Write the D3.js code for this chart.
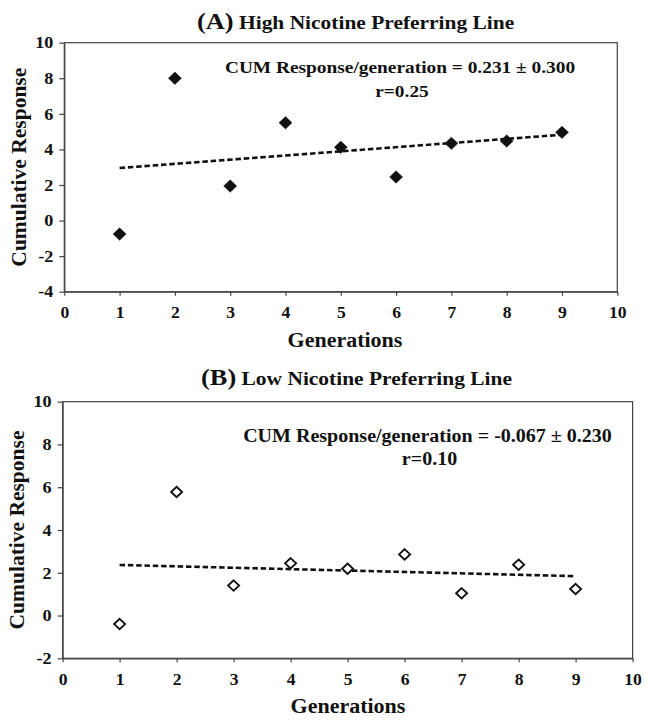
<!DOCTYPE html>
<html>
<head>
<meta charset="utf-8">
<script src="https://cdn.jsdelivr.net/npm/d3@7/dist/d3.min.js"></script>
<style>
  html, body { margin: 0; padding: 0; background: #fff; }
  svg { display: block; }
  text { font-family: "Liberation Serif", "Times New Roman", Times, serif; font-weight: bold; fill: #111; }
</style>
</head>
<body>
<svg id="chart" width="649" height="723"></svg>
<script>
// ---------------- data ----------------
const generations = [1, 2, 3, 4, 5, 6, 7, 8, 9];
const highLineValues = [-0.76, 8.0, 1.94, 5.5, 4.12, 2.45, 4.34, 4.47, 4.96];
const lowLineValues  = [-0.4, 5.78, 1.40, 2.44, 2.19, 2.86, 1.04, 2.38, 1.24];
const xTickValues = [0, 1, 2, 3, 4, 5, 6, 7, 8, 9, 10];
const yTickValuesA = [-4, -2, 0, 2, 4, 6, 8, 10];
const yTickValuesB = [-2, 0, 2, 4, 6, 8, 10];
const titleLetters = ["(A)", "(B)"];
const titleTexts = ["High Nicotine Preferring Line", "Low Nicotine Preferring Line"];
const equationTexts = ["CUM Response/generation = 0.231 \u00b1 0.300", "CUM Response/generation = -0.067 \u00b1 0.230"];
const rTexts = ["r=0.25", "r=0.10"];
const xAxisTitle = "Generations";
const yAxisTitle = "Cumulative Response";

// ---------------- layout ----------------
const svg = d3.select("#chart");
const SX = 1.1; // horizontal glyph stretch of the original figure
const axisColor = "#444";
const tickFont = '"Liberation Serif", "Times New Roman", serif';

const panels = [
  { values: highLineValues, yTicks: yTickValuesA, yDomain: [-4, 10], filled: true,
    left: 64.3, right: 617.3, top: 42.7, bottom: 291.7,
    titleX: 197, titleY: 29, eqX: 400, eqY: 73, rY: 96.5,
    xTitleX: 345, xTitleY: 347, yTitleX: 25.5, eqSize: 17.6 },
  { values: lowLineValues, yTicks: yTickValuesB, yDomain: [-2, 10], filled: false,
    left: 62.6, right: 632.6, top: 401.7, bottom: 658.3,
    titleX: 201, titleY: 385, eqX: 427.5, eqY: 441.5, rY: 465,
    xTitleX: 348, xTitleY: 713, yTitleX: 24, eqSize: 18.2 }
];

function stretchedText(g, x, y, str, size, anchor) {
  return g.append("text")
    .attr("transform", `translate(${x},${y}) scale(${SX},1)`)
    .attr("text-anchor", anchor || "middle")
    .style("font-size", size + "px")
    .text(str);
}

function linReg(xs, ys) {
  const mx = d3.mean(xs), my = d3.mean(ys);
  let sxy = 0, sxx = 0;
  xs.forEach((xv, i) => { sxy += (xv - mx) * (ys[i] - my); sxx += (xv - mx) ** 2; });
  const slope = sxy / sxx;
  return { slope, intercept: my - slope * mx };
}

const fmt = d => String(d);

panels.forEach((p, idx) => {
  const g = svg.append("g");
  const x = d3.scaleLinear().domain([0, 10]).range([p.left, p.right]);
  const y = d3.scaleLinear().domain(p.yDomain).range([p.bottom, p.top]);

  // frame
  g.append("rect")
    .attr("x", p.left).attr("y", p.top)
    .attr("width", p.right - p.left).attr("height", p.bottom - p.top)
    .attr("fill", "none").attr("stroke", axisColor).attr("stroke-width", 1.2);

  // x axis
  const xa = g.append("g").attr("transform", `translate(0,${p.bottom})`)
    .call(d3.axisBottom(x).tickValues(xTickValues).tickSizeInner(4).tickSizeOuter(0).tickFormat(fmt));
  xa.select(".domain").attr("stroke", axisColor).attr("stroke-width", 1.2);
  xa.selectAll(".tick line").attr("stroke", axisColor).attr("stroke-width", 1.2);
  xa.selectAll(".tick text")
    .attr("y", 15).attr("transform", `scale(${SX},1)`)
    .style("font-size", "16px").attr("fill", "#111")
    .style("font-family", tickFont).style("font-weight", "bold");

  // y axis
  const ya = g.append("g").attr("transform", `translate(${p.left},0)`)
    .call(d3.axisLeft(y).tickValues(p.yTicks).tickSizeInner(5).tickSizeOuter(0).tickFormat(fmt));
  ya.select(".domain").attr("stroke", axisColor).attr("stroke-width", 1.2);
  ya.selectAll(".tick line").attr("stroke", axisColor).attr("stroke-width", 1.2);
  ya.selectAll(".tick text")
    .attr("x", -11 / SX).attr("transform", `scale(${SX},1)`)
    .style("font-size", "16.5px").attr("fill", "#111")
    .style("font-family", tickFont).style("font-weight", "bold");

  // trend line (least squares through the data)
  const reg = linReg(generations, p.values);
  const x0 = d3.min(generations), x1 = d3.max(generations);
  g.append("line")
    .attr("x1", x(x0)).attr("y1", y(reg.intercept + reg.slope * x0))
    .attr("x2", x(x1)).attr("y2", y(reg.intercept + reg.slope * x1))
    .attr("stroke", "#111").attr("stroke-width", 2.6)
    .attr("stroke-dasharray", "5.5,2.8");

  // diamond markers
  const hw = 6.5, hh = 6.2;
  g.selectAll("path.pt").data(generations.map((gv, i) => [gv, p.values[i]]))
    .enter().append("path").attr("class", "pt")
    .attr("d", d => {
      const cx = x(d[0]), cy = y(d[1]);
      return p.filled
        ? `M${cx},${cy - hh}L${cx + hw},${cy}L${cx},${cy + hh}L${cx - hw},${cy}Z`
        : `M${cx},${cy - hh + 1}L${cx + hw - 1},${cy}L${cx},${cy + hh - 1}L${cx - hw + 1},${cy}Z`;
    })
    .attr("fill", p.filled ? "#111" : "#fff")
    .attr("stroke", "#111")
    .attr("stroke-width", p.filled ? 0.5 : 1.9);

  // panel title
  const t = g.append("text")
    .attr("transform", `translate(${p.titleX},${p.titleY}) scale(${SX},1)`)
    .attr("text-anchor", "start");
  t.append("tspan").style("font-size", "24px").text(titleLetters[idx]);
  t.append("tspan").style("font-size", "19.5px").text(" " + titleTexts[idx]);

  // annotation
  stretchedText(g, p.eqX, p.eqY, equationTexts[idx], p.eqSize, "middle");
  stretchedText(g, p.eqX + 2, p.rY, rTexts[idx], p.eqSize, "middle");

  // axis titles
  stretchedText(g, p.xTitleX, p.xTitleY, xAxisTitle, 20, "middle");
  g.append("text")
    .attr("transform", `translate(${p.yTitleX},${(p.top + p.bottom) / 2}) rotate(-90)`)
    .attr("text-anchor", "middle")
    .style("font-size", "21.5px")
    .text(yAxisTitle);
});
</script>
</body>
</html>
